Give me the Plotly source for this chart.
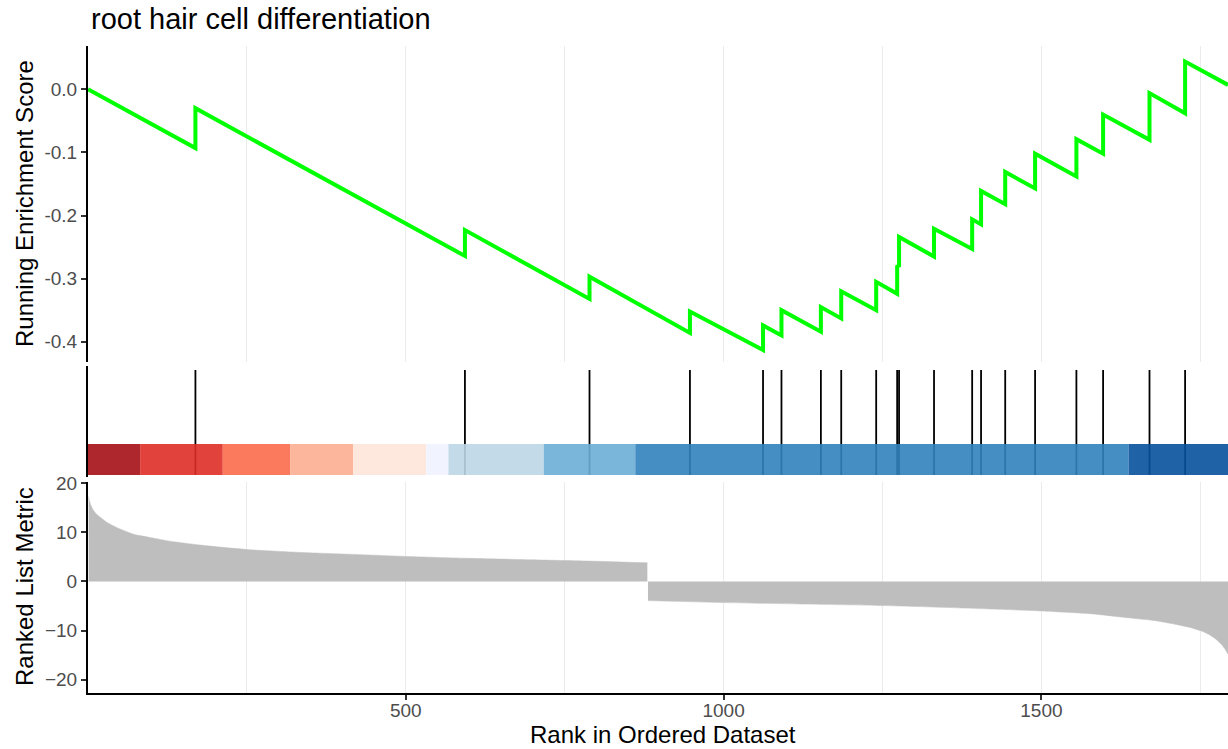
import plotly.graph_objects as go

# ---------------- data ----------------
chart_title = "root hair cell differentiation"
x_title = "Rank in Ordered Dataset"
es_title = "Running Enrichment Score"
metric_title = "Ranked List Metric"

x_max = 1793.5

# running enrichment score vertices (rank, value) – before/after each hit
es_rank = [0,
           169, 169, 593, 593, 789, 789, 947, 947, 1062, 1062,
           1091, 1091, 1153, 1153, 1185, 1185, 1240, 1240, 1273, 1273,
           1276, 1276, 1331, 1331, 1391, 1391, 1405, 1405, 1443, 1443,
           1490, 1490, 1555, 1555, 1597, 1597, 1670, 1670, 1726, 1726,
           1793.5]
es_value = [0.0,
            -0.093, -0.030, -0.264, -0.223, -0.332, -0.297, -0.386, -0.352, -0.413, -0.374,
            -0.390, -0.350, -0.384, -0.345, -0.363, -0.320, -0.350, -0.305, -0.324, -0.279,
            -0.281, -0.234, -0.265, -0.221, -0.253, -0.206, -0.214, -0.161, -0.182, -0.131,
            -0.157, -0.102, -0.138, -0.079, -0.102, -0.040, -0.080, -0.006, -0.038, 0.044,
            0.007]

# gene-set hit positions
hit_rank = [169, 593, 789, 947, 1062, 1091, 1153, 1185, 1240, 1273, 1276,
            1331, 1391, 1405, 1443, 1490, 1555, 1597, 1670, 1726]

# ranked list metric (positive part, negative part)
metric_pos_rank = [1, 2, 4, 7, 12, 20, 30, 45, 72, 100, 124, 177, 250, 335, 420, 500, 600, 700, 800, 880]
metric_pos_value = [17.3, 16.6, 15.7, 14.8, 13.9, 13.0, 12.0, 11.0, 9.6, 8.9, 8.3, 7.4, 6.5, 5.9, 5.5, 5.1, 4.7, 4.4, 4.1, 3.8]
metric_neg_rank = [881, 1000, 1125, 1250, 1375, 1500, 1580, 1637, 1680, 1710, 1735, 1752, 1765, 1775, 1783, 1789, 1793.5]
metric_neg_value = [-3.9, -4.3, -4.6, -4.9, -5.4, -6.0, -6.6, -7.4, -8.0, -8.7, -9.4, -10.1, -10.9, -11.8, -12.8, -13.8, -14.8]

# colour band segments
band_edges = [0, 82, 212, 318, 417, 532, 567, 717, 861, 1637, x_max]
band_colors = ["#A50F15", "#DE2D26", "#FB6A4A", "#FCAE91", "#FEE5D9",
               "#EFF3FF", "#BDD7E7", "#6BAED6", "#3182BD", "#08519C"]

es_ticks = [0.0, -0.1, -0.2, -0.3, -0.4]
es_ticktext = ["0.0", "-0.1", "-0.2", "-0.3", "-0.4"]
metric_ticks = [20, 10, 0, -10, -20]
x_ticks = [500, 1000, 1500]

# ---------------- layout constants ----------------
W, H = 1228, 749
M_L, M_R, M_T, M_B = 88, 0, 46, 56
PH = H - M_T - M_B
PW = W - M_L - M_R


def py(px):  # pixel y -> paper y
    return (H - M_B - px) / PH


def pxx(px):  # pixel x -> paper x
    return (px - M_L) / PW


FONT = "Liberation Sans, Arial, sans-serif"
GRID = "#EBEBEB"
TICKC = "#333333"
TICKF = dict(family=FONT, size=19, color="#4D4D4D")

fig = go.Figure()

# running enrichment score
fig.add_trace(go.Scatter(x=es_rank, y=es_value, mode="lines",
                         line=dict(color="#00FF00", width=4),
                         xaxis="x", yaxis="y", hoverinfo="skip", showlegend=False))

# hits
hx, hy = [], []
for r in hit_rank:
    hx += [r, r, None]
    hy += [0.018, 0.964, None]
fig.add_trace(go.Scatter(x=hx, y=hy, mode="lines",
                         line=dict(color="black", width=1.8),
                         xaxis="x2", yaxis="y2", hoverinfo="skip", showlegend=False))

# ranked list metric
fig.add_trace(go.Scatter(x=metric_pos_rank, y=metric_pos_value, mode="lines",
                         line=dict(color="#BEBEBE", width=0.5, shape="spline", smoothing=0.6),
                         fill="tozeroy", fillcolor="#BEBEBE", xaxis="x3", yaxis="y3",
                         hoverinfo="skip", showlegend=False))
fig.add_trace(go.Scatter(x=metric_neg_rank, y=metric_neg_value, mode="lines",
                         line=dict(color="#BEBEBE", width=0.5, shape="spline", smoothing=0.6),
                         fill="tozeroy", fillcolor="#BEBEBE", xaxis="x3", yaxis="y3",
                         hoverinfo="skip", showlegend=False))

shapes = []
for i, c in enumerate(band_colors):
    shapes.append(dict(type="rect", xref="x2", yref="y2",
                       x0=band_edges[i], x1=band_edges[i + 1], y0=0.018, y1=0.297,
                       fillcolor=c, opacity=0.9, line=dict(width=0), layer="above"))

minor_grid = dict(dtick=250, tick0=0, showgrid=True, gridcolor=GRID, gridwidth=1, ticks="")

fig.update_layout(
    width=W, height=H,
    margin=dict(l=M_L, r=M_R, t=M_T, b=M_B),
    paper_bgcolor="white", plot_bgcolor="white",
    font=dict(family=FONT, color="black"),
    showlegend=False,
    shapes=shapes,
    xaxis=dict(domain=[0, 1], anchor="y", range=[0, x_max], tickmode="array",
               tickvals=x_ticks, showticklabels=False, ticks="", showgrid=True,
               gridcolor=GRID, gridwidth=1.2, zeroline=False, showline=False,
               minor=minor_grid),
    yaxis=dict(domain=[py(362), 1], anchor="x", range=[-0.432, 0.0686],
               tickmode="array", tickvals=es_ticks, ticktext=es_ticktext,
               ticks="outside", ticklen=5, tickwidth=2, tickcolor=TICKC,
               tickfont=TICKF, showline=True, linecolor="black", linewidth=2,
               showgrid=False, zeroline=False),
    xaxis2=dict(domain=[0, 1], anchor="y2", range=[0, x_max], visible=False,
                showgrid=False, zeroline=False),
    yaxis2=dict(domain=[py(477), py(366)], anchor="x2", range=[0, 1],
                showticklabels=False, ticks="", showline=True, linecolor="black",
                linewidth=2, showgrid=False, zeroline=False),
    xaxis3=dict(domain=[0, 1], anchor="y3", range=[0, x_max], tickmode="array",
                tickvals=x_ticks, ticks="outside", ticklen=5, tickwidth=2,
                tickcolor=TICKC, tickfont=TICKF, showline=True, linecolor="black",
                linewidth=2, showgrid=True, gridcolor=GRID, gridwidth=1.2,
                zeroline=False, minor=minor_grid, ticklabelstandoff=-6),
    yaxis3=dict(domain=[0, py(481.7)], anchor="x3", range=[-22.7, 20.3],
                tickmode="array", tickvals=metric_ticks, ticks="outside",
                ticklen=5, tickwidth=2, tickcolor=TICKC, tickfont=TICKF,
                showline=True, linecolor="black", linewidth=2,
                showgrid=False, zeroline=False),
    annotations=[
        dict(text=chart_title, xref="paper", yref="paper", x=pxx(89), y=py(18.5),
             xanchor="left", yanchor="middle", showarrow=False,
             font=dict(family=FONT, size=29, color="black")),
        dict(text=es_title, xref="paper", yref="paper", x=pxx(24), y=py(204),
             xanchor="center", yanchor="middle", textangle=-90, showarrow=False,
             font=dict(family=FONT, size=24, color="black")),
        dict(text=metric_title, xref="paper", yref="paper", x=pxx(24), y=py(587),
             xanchor="center", yanchor="middle", textangle=-90, showarrow=False,
             font=dict(family=FONT, size=24, color="black")),
        dict(text=x_title, xref="paper", yref="paper", x=pxx(663), y=py(734),
             xanchor="center", yanchor="middle", showarrow=False,
             font=dict(family=FONT, size=24, color="black")),
    ],
)

fig.write_html("out.html")
